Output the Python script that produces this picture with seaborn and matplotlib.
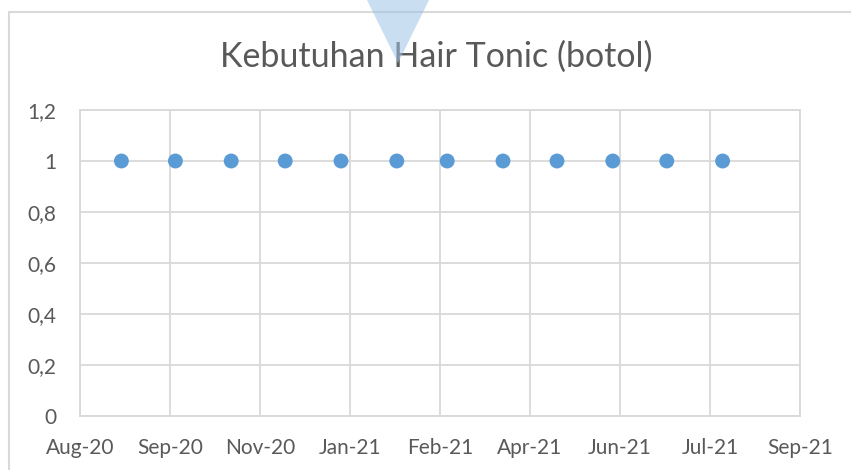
import matplotlib
matplotlib.use("Agg")
import matplotlib.pyplot as plt
import matplotlib.dates as mdates
from matplotlib.patches import Polygon, Rectangle
from matplotlib.ticker import FuncFormatter
import seaborn as sns
import pandas as pd

# Data
dates = ["2020-09-01", "2020-10-01", "2020-11-01", "2020-12-01", "2021-01-01", "2021-02-01",
         "2021-03-01", "2021-04-01", "2021-05-01", "2021-06-01", "2021-07-01", "2021-08-01"]
kebutuhan = [1, 1, 1, 1, 1, 1, 1, 1, 1, 1, 1, 1]
axis_start = "2020-08-09"
tick_step_days = 50
n_ticks = 9
y_ticks = [0, 0.2, 0.4, 0.6, 0.8, 1.0, 1.2]
title = "Kebutuhan Hair Tonic (botol)"

df = pd.DataFrame({"tanggal": pd.to_datetime(dates), "botol": kebutuhan})

sns.set_theme(style="white")
plt.rcParams["font.family"] = ["Lato", "DejaVu Sans"]

text_color = "#595959"
grid_color = "#D9D9D9"

fig = plt.figure(figsize=(8.51, 4.70), dpi=100)
W, H = 851, 470
ax = fig.add_axes([80 / W, 1 - 416 / H, 720 / W, 306 / H])

sns.scatterplot(data=df, x="tanggal", y="botol", ax=ax, color="#5B9BD5",
                s=115, edgecolor="none", zorder=3, legend=False)

xticks = pd.date_range(axis_start, periods=n_ticks, freq=f"{tick_step_days}D")
ax.set_xlim(mdates.date2num(xticks[0]), mdates.date2num(xticks[-1]))
ax.set_xticks(mdates.date2num(xticks))
ax.xaxis.set_major_formatter(mdates.DateFormatter("%b-%y"))
ax.set_ylim(0, 1.2)
ax.set_yticks(y_ticks)
ax.yaxis.set_major_formatter(FuncFormatter(lambda v, p: ("%g" % round(v, 1)).replace(".", ",")))

ax.grid(True, color=grid_color, linewidth=1.3)
ax.set_axisbelow(True)
for s in ax.spines.values():
    s.set_color(grid_color)
    s.set_linewidth(1.3)
ax.tick_params(axis="x", length=0, pad=15.5, labelsize=15, labelcolor=text_color)
ax.tick_params(axis="y", length=0, pad=17, labelsize=15, labelcolor=text_color)
ax.set_xlabel("")
ax.set_ylabel("")

fig.text(436 / W, 1 - 67 / H, title, ha="center", va="baseline", fontsize=24.5, color=text_color)

# chart border
fig.patches.append(Rectangle((9 / W, -0.1), 2, 1 - 12 / H + 0.1, transform=fig.transFigure,
                             fill=False, edgecolor=grid_color, linewidth=1.5))
# translucent triangle at top
fig.patches.append(Polygon([(367 / W, 1.0), (429 / W, 1.0), (398 / W, 1 - 63 / H)], closed=True,
                           transform=fig.transFigure, facecolor="#9DC3E6", alpha=0.55,
                           edgecolor="none", zorder=10))

fig.savefig("out.png", dpi=100)
